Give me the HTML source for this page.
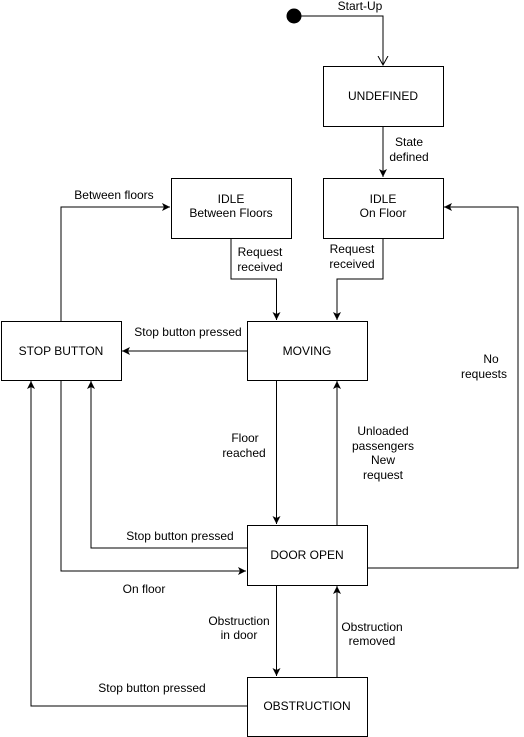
<!DOCTYPE html>
<html><head><style>
html,body{margin:0;padding:0;background:#fff;}
svg{display:block;}
text{font-family:"Liberation Sans",Arial,sans-serif;font-size:12px;fill:#000;}
</style></head><body>
<svg width="524" height="737" viewBox="0 0 524 737" xmlns="http://www.w3.org/2000/svg">
<defs>
<marker id="a" markerWidth="10" markerHeight="10" refX="8" refY="5" orient="auto" markerUnits="userSpaceOnUse">
<path d="M0,1 L8,5 L0,9 L2,5 Z" fill="#000"/>
</marker>
<marker id="v" markerWidth="12" markerHeight="12" refX="9" refY="6" orient="auto" markerUnits="userSpaceOnUse">
<path d="M0,1 L9,6 L0,11" fill="none" stroke="#000"/>
</marker>
</defs>
<g fill="none" stroke="#000" stroke-width="1">
<circle cx="294" cy="16" r="7" fill="#000"/>
<path d="M301,16 H383 V65" marker-end="url(#v)"/>
<path d="M383,126 V177" marker-end="url(#a)"/>
<path d="M231,238 V279 H276.5 V320" marker-end="url(#a)"/>
<path d="M383,238 V279 H337 V320" marker-end="url(#a)"/>
<path d="M61,321 V207 H170" marker-end="url(#a)"/>
<path d="M247,351 H122" marker-end="url(#a)"/>
<path d="M276.5,380 V524" marker-end="url(#a)"/>
<path d="M337,525 V381" marker-end="url(#a)"/>
<path d="M367,568 H518 V207 H444" marker-end="url(#a)"/>
<path d="M247,548 H91 V381" marker-end="url(#a)"/>
<path d="M61,380 V571 H246" marker-end="url(#a)"/>
<path d="M276.5,585 V676" marker-end="url(#a)"/>
<path d="M337,677 V586" marker-end="url(#a)"/>
<path d="M247,706 H31 V381" marker-end="url(#a)"/>
<rect x="323.5" y="66.5" width="120" height="60" fill="#fff"/>
<rect x="323.5" y="178.5" width="120" height="60" fill="#fff"/>
<rect x="171.5" y="178.5" width="120" height="60" fill="#fff"/>
<rect x="1.5" y="321.5" width="120" height="59" fill="#fff"/>
<rect x="247.5" y="321.5" width="120" height="59" fill="#fff"/>
<rect x="247.5" y="525.5" width="120" height="60" fill="#fff"/>
<rect x="247.5" y="677.5" width="120" height="59" fill="#fff"/>
</g>
<g text-anchor="middle">
<text x="383" y="100">UNDEFINED</text>
<text x="383" y="203">IDLE</text><text x="383" y="217">On Floor</text>
<text x="231" y="203">IDLE</text><text x="231" y="217">Between Floors</text>
<text x="61" y="355">STOP BUTTON</text>
<text x="307" y="355">MOVING</text>
<text x="307" y="559">DOOR OPEN</text>
<text x="307" y="710">OBSTRUCTION</text>
<g style="font-size:11px">
<text x="360" y="10">Start-Up</text>
<text x="409" y="146">State</text><text x="409" y="161">defined</text>
<text x="260" y="256">Request</text><text x="260" y="271">received</text>
<text x="352" y="253">Request</text><text x="352" y="268">received</text>
<text x="114" y="199">Between floors</text>
<text x="188" y="336">Stop button pressed</text>
<text x="491" y="363">No</text><text x="484" y="378">requests</text>
<text x="245" y="442">Floor</text><text x="244" y="457">reached</text>
<text x="383" y="435">Unloaded</text><text x="383" y="450">passengers</text><text x="383" y="464">New</text><text x="383" y="479">request</text>
<text x="180" y="540">Stop button pressed</text>
<text x="144" y="593">On floor</text>
<text x="239" y="625">Obstruction</text><text x="239" y="639">in door</text>
<text x="372" y="631">Obstruction</text><text x="372" y="645">removed</text>
<text x="152" y="692">Stop button pressed</text>
</g>
</g>
</svg>
</body></html>
